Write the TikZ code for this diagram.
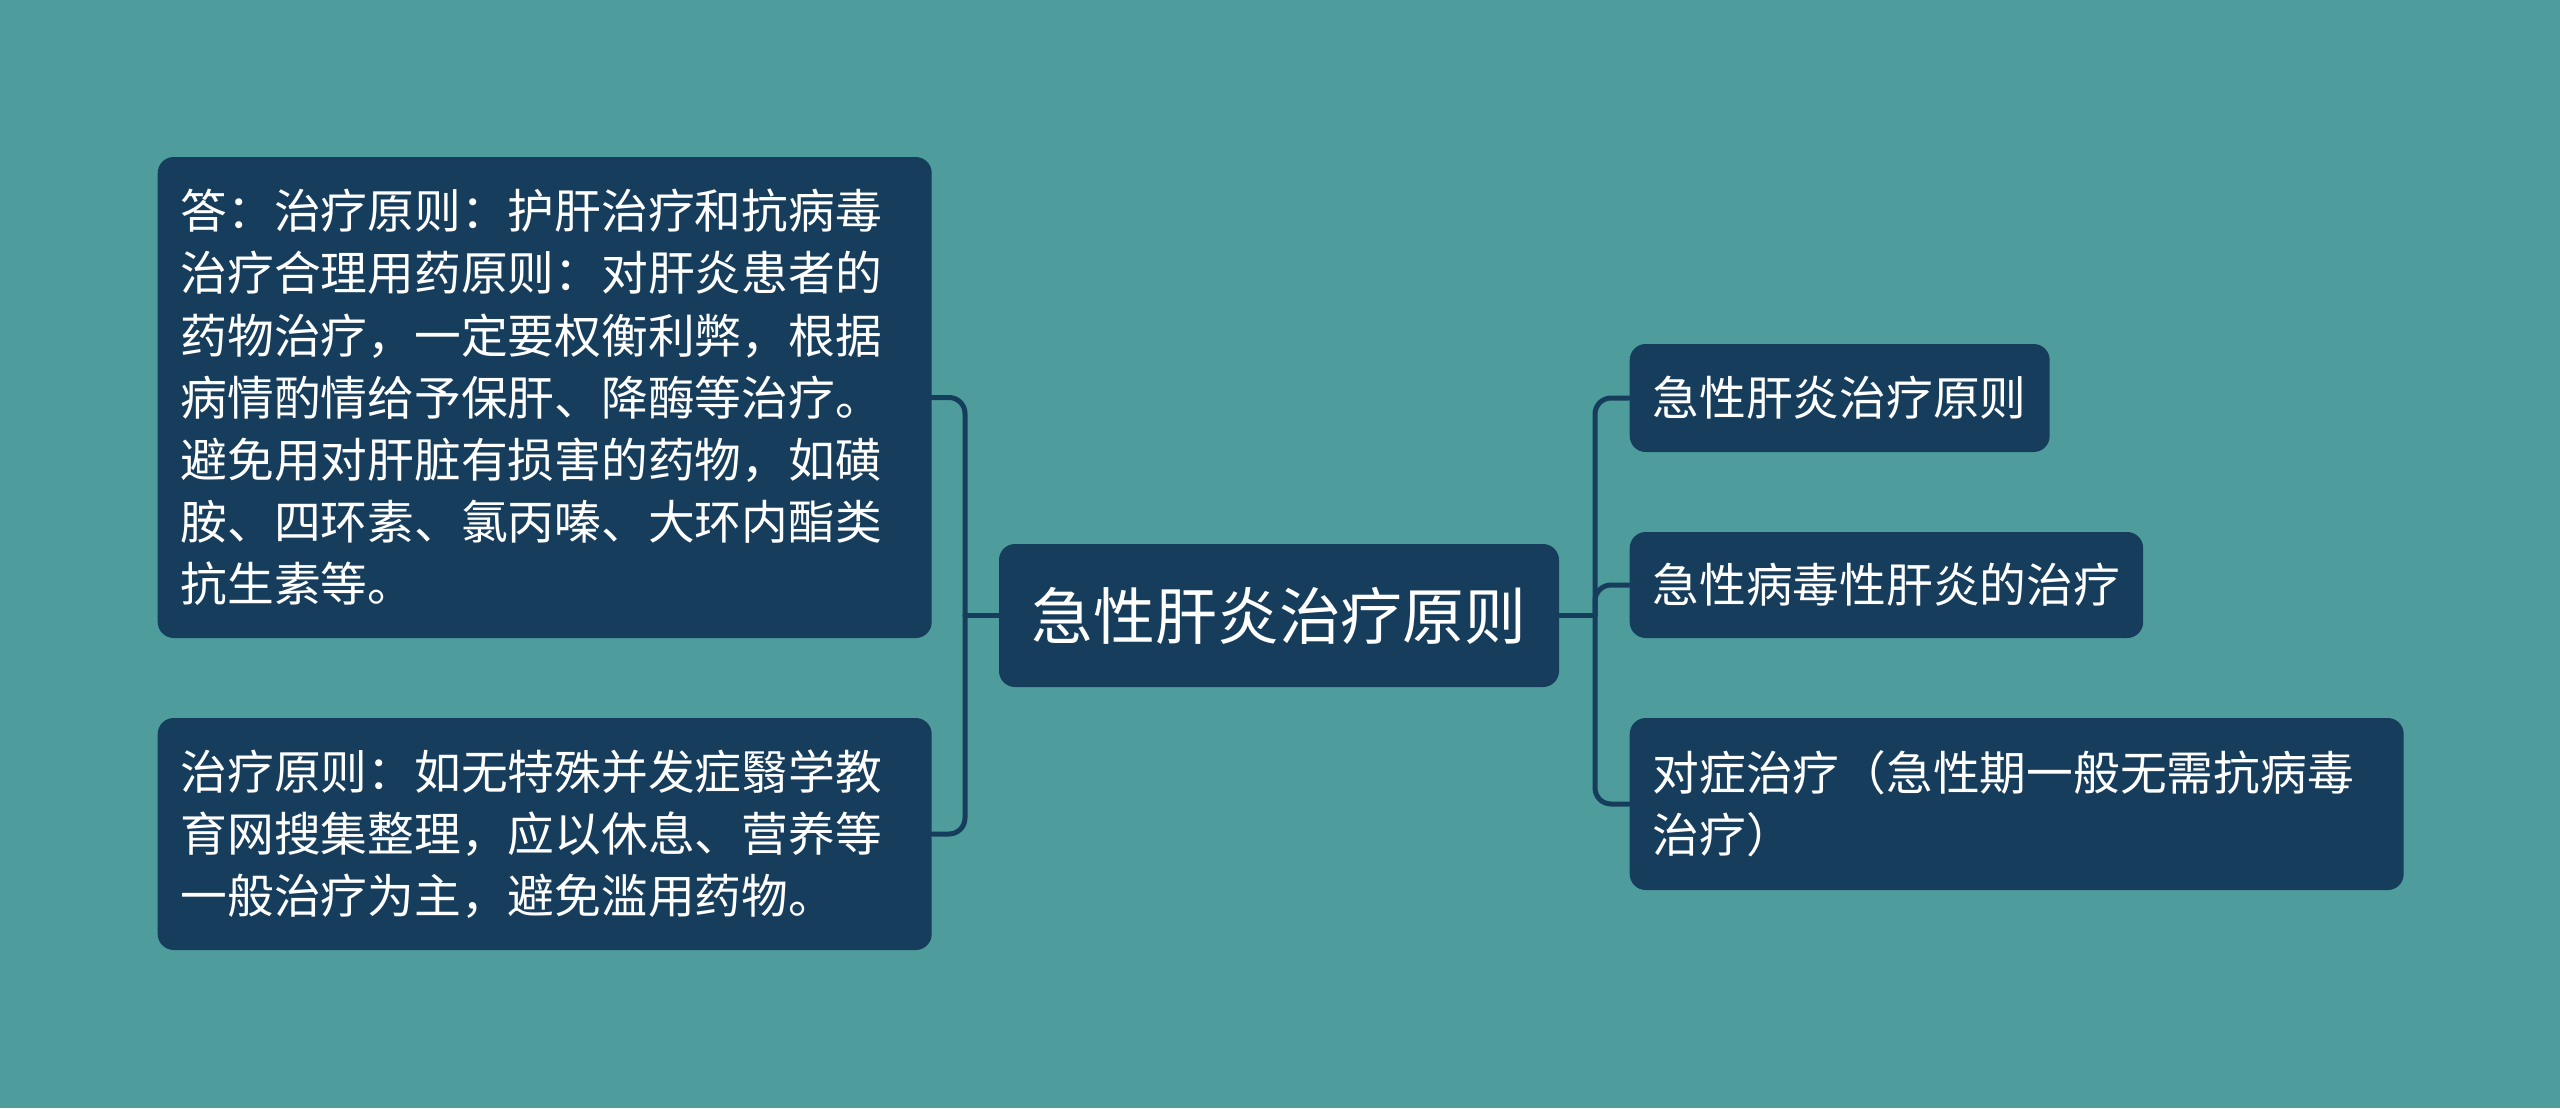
\documentclass[tikz,border=0pt]{standalone}
\usepackage{fontspec}
\setmainfont{Noto Sans CJK SC}
\definecolor{bgteal}{HTML}{4E9C9C}
\definecolor{boxblue}{HTML}{173D5C}
\tikzset{
	topic/.style={fill=boxblue,text=white,rounded corners=0.16cm,inner xsep=0.23cm,inner ysep=0pt,align=left},
	link/.style={draw=boxblue,line width=0.05cm,rounded corners=0.16cm},
}
\begin{document}
\begin{tikzpicture}[x=1cm,y=-1cm,line cap=round,line join=round,font=\fontsize{13.3pt}{17.7pt}\selectfont]
			\fill[bgteal] (0,0) rectangle (25.6,11.08);
			\useasboundingbox (0,0) rectangle (25.6,11.08);
			% centre
			\node[topic,font=\fontsize{17.6pt}{22pt}\selectfont,minimum width=5.6cm,minimum height=1.43cm,align=center] (root) at (12.79,6.155) {急性肝炎治疗原则};
			% left side
			\node[topic,anchor=west,text width=7.28cm,minimum height=4.81cm] (lt) at (1.57,3.975) {答：治疗原则：护肝治疗和抗病毒\\治疗合理用药原则：对肝炎患者的\\药物治疗，一定要权衡利弊，根据\\病情酌情给予保肝、降酶等治疗。\\避免用对肝脏有损害的药物，如磺\\胺、四环素、氯丙嗪、大环内酯类\\抗生素等。};
			\node[topic,anchor=west,text width=7.28cm,minimum height=2.32cm] (lb) at (1.57,8.34) {治疗原则：如无特殊并发症翳学教\\育网搜集整理，应以休息、营养等\\一般治疗为主，避免滥用药物。};
			% right side
			\node[topic,anchor=west,minimum height=1.08cm] (r1) at (16.29,3.98) {急性肝炎治疗原则};
			\node[topic,anchor=west,minimum height=1.06cm] (r2) at (16.29,5.85) {急性病毒性肝炎的治疗};
			\node[topic,anchor=west,text width=7.28cm,minimum height=1.72cm] (r3) at (16.29,8.04) {对症治疗（急性期一般无需抗病毒\\治疗）};
			% connectors
			\coordinate (lbus) at (9.65,6.155);
			\coordinate (rbus) at (15.95,6.155);
			\draw[link] (root.west) -- (lbus);
			\draw[link] (root.east) -- (rbus);
			\foreach \n in {lt,lb} \draw[link] (lbus) |- (\n.east);
			\foreach \n in {r1,r2,r3} \draw[link] (rbus) |- (\n.west);
		\end{tikzpicture}
\end{document}
